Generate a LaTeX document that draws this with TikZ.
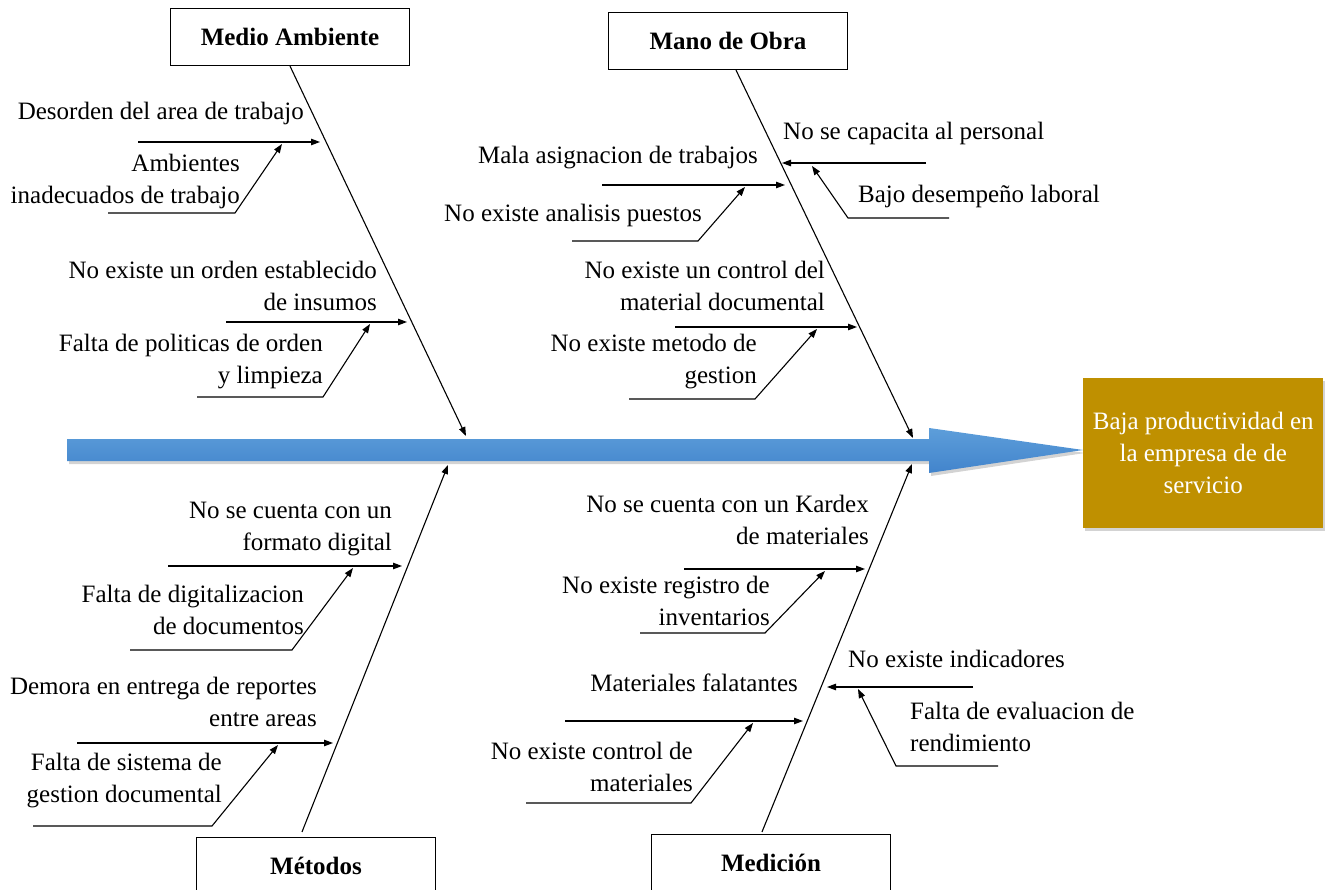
\documentclass[tikz,border=0pt]{standalone}
\usepackage{fontspec}
\setmainfont{Liberation Serif}
\usetikzlibrary{arrows.meta, shadows, positioning}

\definecolor{spinetop}{RGB}{93,158,218}
\definecolor{spinebottom}{RGB}{66,132,204}
\definecolor{effectgold}{RGB}{191,144,0}
\newcommand{\fishfont}{\fontsize{25}{32}\selectfont}

\begin{document}
\begin{tikzpicture}[
  x=1pt, y=-1pt,
  >={Triangle[length=9pt,width=6.5pt]},
  every node/.style={font=\fishfont, inner sep=0pt},
  category/.style={draw, line width=1.2pt, minimum width=239pt, minimum height=57pt, font=\fishfont\bfseries},
  effect/.style={fill=effectgold, text=white, align=center, minimum width=240pt, minimum height=149pt,
    drop shadow={shadow xshift=2pt, shadow yshift=-3pt, opacity=.35}},
  causeL/.style={align=right, anchor=base east},
  causeR/.style={align=left, anchor=base west},
  bone/.style={line width=1.1pt},
  rib/.style={line width=1.1pt}]

  \useasboundingbox (0,0) rectangle (1336,890);

  % spine
  \coordinate (tail) at (67,450);
  \coordinate (tip) at (1083,450);
  \path[top color=spinetop, bottom color=spinebottom,
    drop shadow={shadow xshift=2pt, shadow yshift=-3pt, opacity=.35}]
    (tail |- 0,439) -- (929,439) -- (929,428) -- (tip) -- (929,473) -- (929,461) -- (tail |- 0,461) -- cycle;
  \node[effect, right=0pt of tip, yshift=-3pt] (efecto) {Baja productividad en\\la empresa de de\\servicio};

  % categories
  \node[category] (ambiente) at (290,37) {Medio Ambiente};
  \node[category] (obra) at (728,41) {Mano de Obra};
  \node[category] (metodos) at (316,866) {Métodos};
  \node[category] (medicion) at (771,863) {Medición};

  \coordinate (ambtip) at (466,436);
  \coordinate (obratip) at (913,438);
  \coordinate (mettip) at (448,465);
  \coordinate (medtip) at (912,464);
  \draw[bone,->] (ambiente.south) -- (ambtip);
  \draw[bone,->] ([xshift=8pt]obra.south) -- (obratip);
  \draw[bone,->] ([xshift=-14pt,yshift=5pt]metodos.north) -- (mettip);
  \draw[bone,->] ([xshift=-9pt,yshift=2pt]medicion.north) -- (medtip);

  % Medio Ambiente
  \node[causeL] (amb1) at (304,120) {Desorden del area de trabajo};
  \draw[rib,->] (138,142) -- (320,142);
  \node[causeL] (amb2) at (240,204) {Ambientes\\inadecuados de trabajo};
  \draw[rib,->] (108,213) -- (235,213) -- (282,144);
  \node[causeL] (amb3) at (377,311) {No existe un orden establecido\\de insumos};
  \draw[rib,->] (226,322) -- (407,322);
  \node[causeL] (amb4) at (323,384) {Falta de politicas de orden\\y limpieza};
  \draw[rib,->] (197,397) -- (323,397) -- (370,324);

  % Mano de Obra
  \node[causeL] (obra1) at (758,164) {Mala asignacion de trabajos};
  \draw[rib,->] (602,185) -- (785,185);
  \node[causeL] (obra2) at (702,222) {No existe analisis puestos};
  \draw[rib,->] (572,241) -- (698,241) -- (745,187);
  \node[causeL] (obra3) at (825,311) {No existe un control del\\material documental};
  \draw[rib,->] (675,327) -- (857,327);
  \node[causeL] (obra4) at (757,384) {No existe metodo de\\gestion};
  \draw[rib,->] (629,399) -- (755,399) -- (817,329);
  \node[causeR] (obra5) at (783,140) {No se capacita al personal};
  \draw[rib,->] (926,163) -- (782,163);
  \node[causeR] (obra6) at (858,203) {Bajo desempeño laboral};
  \draw[rib,->] (949,218) -- (848,218) -- (812,166);

  % Metodos
  \node[causeL] (met1) at (392,550) {No se cuenta con un\\formato digital};
  \draw[rib,->] (168,566) -- (402,566);
  \node[causeL] (met2) at (304,634) {Falta de digitalizacion\\de documentos};
  \draw[rib,->] (130,650) -- (292,650) -- (353,568);
  \node[causeL] (met3) at (317,726) {Demora en entrega de reportes\\entre areas};
  \draw[rib,->] (77,743) -- (333,743);
  \node[causeL] (met4) at (222,802) {Falta de sistema de\\gestion documental};
  \draw[rib,->] (33,826) -- (212,826) -- (278,745);

  % Medicion
  \node[causeL] (med1) at (869,544) {No se cuenta con un Kardex\\de materiales};
  \draw[rib,->] (684,569) -- (865,569);
  \node[causeL] (med2) at (770,625) {No existe registro de\\inventarios};
  \draw[rib,->] (640,633) -- (765,633) -- (825,571);
  \node[causeL] (med3) at (798,691) {Materiales falatantes};
  \draw[rib,->] (565,721) -- (803,721);
  \node[causeL] (med4) at (693,791) {No existe control de\\materiales};
  \draw[rib,->] (526,803) -- (691,803) -- (753,723);
  \node[causeR] (med5) at (848,667) {No existe indicadores};
  \draw[rib,->] (973,687) -- (827,687);
  \node[causeR] (med6) at (910,751) {Falta de evaluacion de\\rendimiento};
  \draw[rib,->] (998,766) -- (896,766) -- (858,689);
\end{tikzpicture}
\end{document}
